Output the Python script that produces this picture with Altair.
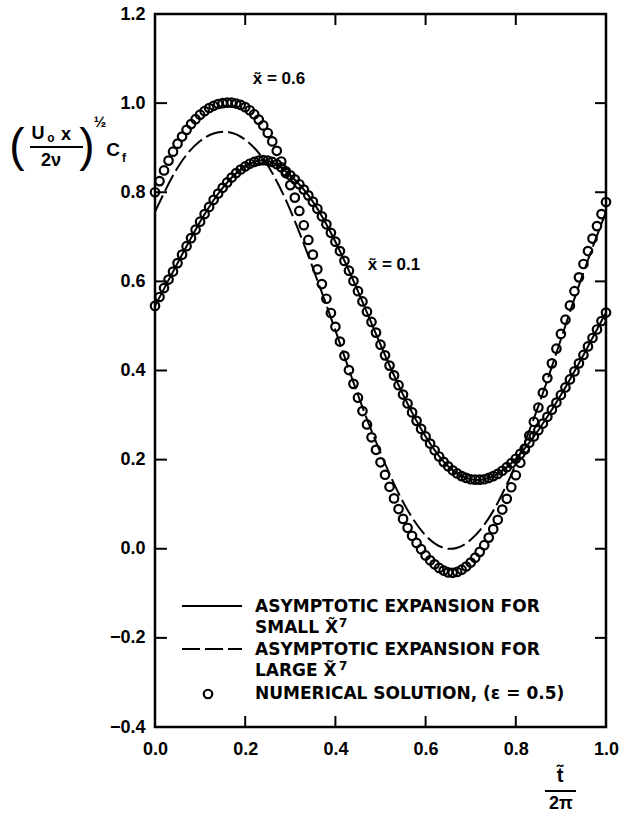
import altair as alt
import pandas as pd

# ---------------- data ----------------
T = [i / 100 for i in range(101)]  # t~/2pi grid of the numerical solution
NUM_X06 = [
    0.800, 0.825, 0.849, 0.871, 0.891, 0.909, 0.925, 0.940, 0.953, 0.964,
    0.974, 0.982, 0.989, 0.994, 0.998, 1.000, 1.001, 1.001, 0.999, 0.996,
    0.991, 0.984, 0.975, 0.963, 0.950, 0.933, 0.914, 0.893, 0.869, 0.843,
    0.816, 0.788, 0.758, 0.726, 0.693, 0.660, 0.627, 0.594, 0.561, 0.529,
    0.498, 0.465, 0.433, 0.401, 0.370, 0.339, 0.309, 0.279, 0.250, 0.222,
    0.194, 0.166, 0.139, 0.113, 0.089, 0.067, 0.047, 0.029, 0.013, -0.001,
    -0.015, -0.026, -0.035, -0.043, -0.049, -0.053, -0.054, -0.052, -0.047, -0.040,
    -0.031, -0.020, -0.007, 0.008, 0.025, 0.044, 0.065, 0.088, 0.112, 0.138,
    0.165, 0.193, 0.223, 0.254, 0.285, 0.317, 0.350, 0.383, 0.416, 0.449,
    0.482, 0.514, 0.546, 0.578, 0.609, 0.639, 0.668, 0.696, 0.724, 0.751,
    0.778,
]
NUM_X01 = [
    0.545, 0.565, 0.585, 0.604, 0.622, 0.641, 0.660, 0.679, 0.697, 0.716,
    0.734, 0.751, 0.767, 0.783, 0.797, 0.810, 0.822, 0.833, 0.843, 0.851,
    0.858, 0.864, 0.868, 0.871, 0.872, 0.871, 0.868, 0.863, 0.856, 0.847,
    0.838, 0.829, 0.818, 0.806, 0.793, 0.779, 0.763, 0.746, 0.728, 0.709,
    0.689, 0.668, 0.646, 0.624, 0.601, 0.578, 0.555, 0.532, 0.509, 0.485,
    0.458, 0.434, 0.411, 0.389, 0.367, 0.346, 0.326, 0.306, 0.287, 0.269,
    0.252, 0.236, 0.221, 0.207, 0.195, 0.185, 0.176, 0.169, 0.163, 0.159,
    0.156, 0.155, 0.155, 0.156, 0.159, 0.163, 0.168, 0.175, 0.183, 0.192,
    0.202, 0.213, 0.225, 0.238, 0.252, 0.266, 0.281, 0.296, 0.312, 0.328,
    0.345, 0.362, 0.380, 0.398, 0.416, 0.435, 0.454, 0.473, 0.492, 0.511,
    0.530,
]
TL = [i / 20 for i in range(21)]  # grid of the asymptotic curves
LARGE_X06 = [0.756, 0.855, 0.915, 0.936, 0.918, 0.860, 0.760, 0.630, 0.490, 0.345,
             0.215, 0.105, 0.030, 0.000, 0.020, 0.085, 0.190, 0.320, 0.470, 0.620,
             0.756]
SMALL_X01 = [0.545, 0.641, 0.734, 0.810, 0.858, 0.871, 0.838, 0.779, 0.689, 0.578,
             0.458, 0.346, 0.252, 0.185, 0.156, 0.163, 0.202, 0.266, 0.345, 0.435,
             0.530]
YTICKS = [-0.4, -0.2, 0.0, 0.2, 0.4, 0.6, 0.8, 1.0, 1.2]
XTICKS = [0.0, 0.2, 0.4, 0.6, 0.8, 1.0]
ANN_T = [0.275, 0.53]
ANN_V = [1.055, 0.637]
ANN_TXT = ["x\u0303 = 0.6", "x\u0303 = 0.1"]

# ---------------- layout ----------------
W, H = 451, 713
FONT = "Liberation Sans"
LFONT = "DejaVu Sans"
xs = alt.Scale(domain=[0, 1], nice=False, zero=False)
ys = alt.Scale(domain=[-0.4, 1.2], nice=False, zero=False)
one = pd.DataFrame({"k": [0]})

pts = pd.DataFrame({"t": T * 2, "v": NUM_X06 + NUM_X01,
                    "s": ["0.6"] * len(T) + ["0.1"] * len(T)})
large = pd.DataFrame({"t": TL, "v": LARGE_X06})
small = pd.DataFrame({"t": TL, "v": SMALL_X01})

xaxis = alt.Axis(values=XTICKS, format=".1f", labelPadding=13, labelFlush=False, title=None)
yaxis = alt.Axis(values=YTICKS, format=".1f", labelPadding=10, labelFlush=False, title=None)


def X(field="t"):
    return alt.X(f"{field}:Q", scale=xs, title=None)


def Y(field="v"):
    return alt.Y(f"{field}:Q", scale=ys, title=None)


circles = alt.Chart(pts).mark_point(shape="circle", filled=False, size=72,
                                    strokeWidth=2.2, color="black", opacity=1).encode(
    x=alt.X("t:Q", scale=xs, axis=xaxis),
    y=alt.Y("v:Q", scale=ys, axis=yaxis),
    detail="s:N",
)
line_large = alt.Chart(large).mark_line(color="black", strokeWidth=2,
                                        strokeDash=[18, 5], interpolate="natural").encode(
    x=X(), y=Y())
line_small = alt.Chart(small).mark_line(color="black", strokeWidth=2,
                                        interpolate="natural").encode(x=X(), y=Y())

yt = pd.DataFrame({"v": YTICKS})
xt = pd.DataFrame({"t": XTICKS[1:-1]})
tick_l = alt.Chart(yt).mark_rule(color="black", strokeWidth=2).encode(
    y=Y(), x=alt.value(0), x2=alt.value(12))
tick_r = alt.Chart(yt).mark_rule(color="black", strokeWidth=2).encode(
    y=Y(), x=alt.value(W - 11), x2=alt.value(W))
tick_b = alt.Chart(xt).mark_rule(color="black", strokeWidth=2).encode(
    x=X(), y=alt.value(H - 11), y2=alt.value(H))
tick_t = alt.Chart(xt).mark_rule(color="black", strokeWidth=2).encode(
    x=X(), y=alt.value(0), y2=alt.value(11))

ann = alt.Chart(pd.DataFrame({"t": ANN_T, "v": ANN_V, "txt": ANN_TXT})).mark_text(
    font=FONT, fontSize=17, fontWeight="bold", color="black", align="center",
    baseline="middle").encode(x=X(), y=Y(), text="txt:N")


def txt(s, x, y, size=18, weight="bold", align="left", font=FONT):
    return alt.Chart(one).mark_text(text=s, font=font, fontSize=size, fontWeight=weight,
                                    align=align, baseline="middle", color="black").encode(
        x=alt.value(x), y=alt.value(y))


def hrule(x1, x2, y, dash=None):
    kw = {"color": "black", "strokeWidth": 2}
    if dash:
        kw["strokeDash"] = dash
    return alt.Chart(one).mark_rule(**kw).encode(x=alt.value(x1), x2=alt.value(x2),
                                                 y=alt.value(y))


LS = 17
# legend (inside the frame)
legend = [
    hrule(27, 87, 592),
    txt("ASYMPTOTIC EXPANSION FOR", 100, 593, size=LS, font=LFONT),
    txt("SMALL X\u0303", 100, 614, size=LS, font=LFONT),
    txt("7", 184, 609, size=12, font=LFONT),
    hrule(27, 87, 635, dash=[18, 5]),
    txt("ASYMPTOTIC EXPANSION FOR", 100, 636, size=LS, font=LFONT),
    txt("LARGE X\u0303", 100, 657, size=LS, font=LFONT),
    txt("7", 184, 652, size=12, font=LFONT),
    alt.Chart(one).mark_point(shape="circle", filled=False, size=72, strokeWidth=2.2,
                              color="black", opacity=1).encode(x=alt.value(53), y=alt.value(680)),
    txt("NUMERICAL SOLUTION, (\u03b5 = 0.5)", 100, 680, size=LS, font=LFONT),
]

# y-axis title  (U0 x / 2 nu)^(1/2) C_f
ytitle = [
    txt("(", -138, 133, size=46, weight="normal", align="center"),
    txt("U", -117, 120, size=18, align="center"),
    txt("o", -104, 124, size=12, align="center"),
    txt("x", -89, 121, size=18, align="center"),
    hrule(-125, -72, 133),
    txt("2\u03bd", -104, 147, size=18, align="center"),
    txt(")", -68, 133, size=46, weight="normal", align="center"),
    txt("\u00bd", -55, 108, size=15, align="center"),
    txt("C", -42, 136, size=19, align="center"),
    txt("f", -31, 144, size=12, align="center"),
]

# x-axis title  t~ / 2 pi
xtitle = [
    txt("t\u0303", 405, 762, size=20, align="center"),
    hrule(390, 421, 777),
    txt("2\u03c0", 406, 790, size=18, align="center"),
]

chart = alt.layer(
    circles, line_large, line_small, tick_l, tick_r, tick_b, tick_t, ann,
    *legend, *ytitle, *xtitle
).properties(
    width=W, height=H, autosize="none",
    padding={"left": 155, "top": 14, "right": 22, "bottom": 89},
    background="white",
).configure_view(stroke="black", strokeWidth=2.5).configure_axis(
    grid=False, domain=False, ticks=False, tickSize=0,
    labelFont=FONT, labelFontSize=18, labelFontWeight="bold", labelColor="black",
)

chart.save("out.html", embed_options={"renderer": "svg", "actions": False})
